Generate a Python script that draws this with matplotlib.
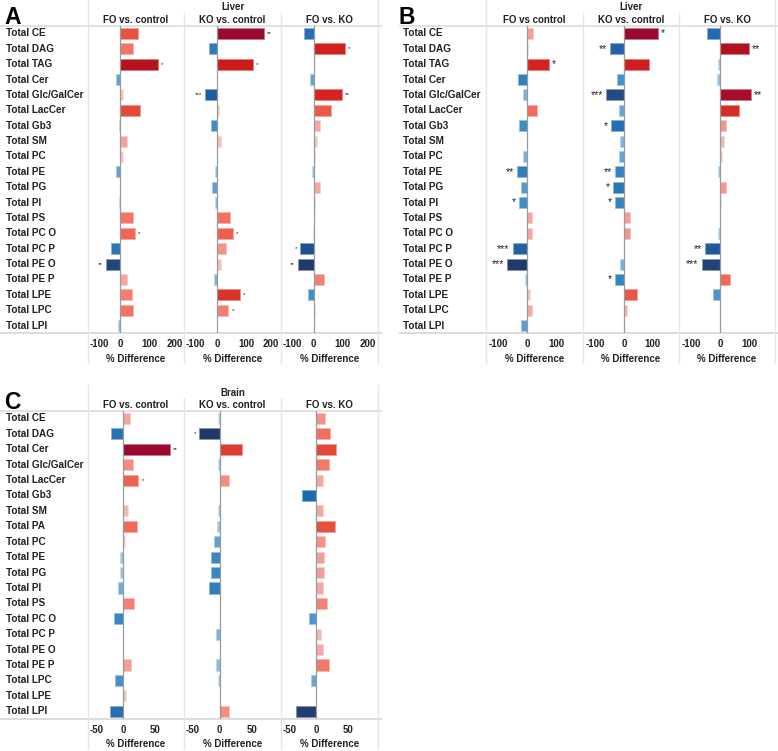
import matplotlib
matplotlib.use("Agg")
import matplotlib.pyplot as plt
import matplotlib.transforms as mtransforms
from matplotlib.colors import LinearSegmentedColormap, to_rgb
from matplotlib.lines import Line2D

plt.rcParams['font.family'] = ['Liberation Sans', 'DejaVu Sans']

# ---------------- data ----------------
rows_liver = ["Total CE", "Total DAG", "Total TAG", "Total Cer", "Total Glc/GalCer",
              "Total LacCer", "Total Gb3", "Total SM", "Total PC", "Total PE", "Total PG",
              "Total PI", "Total PS", "Total PC O", "Total PC P", "Total PE O", "Total PE P",
              "Total LPE", "Total LPC", "Total LPI"]
rows_brain = ["Total CE", "Total DAG", "Total Cer", "Total Glc/GalCer", "Total LacCer",
              "Total Gb3", "Total SM", "Total PA", "Total PC", "Total PE", "Total PG",
              "Total PI", "Total PS", "Total PC O", "Total PC P", "Total PE O", "Total PE P",
              "Total LPC", "Total LPE", "Total LPI"]

a_titles = ["FO vs. control", "KO vs. control", "FO vs. KO"]
b_titles = ["FO vs control", "KO vs. control", "FO vs. KO"]
c_titles = ["FO vs. control", "KO vs. control", "FO vs. KO"]

a_fo_ctrl = [62, 43, 130, -15, 9, 67, -6, 24, 9, -15, 0, -6, 43, 50, -31, -51, 22, 39, 44, -8]
a_ko_ctrl = [160, -29, 124, 0, -42, 8, -22, 13, 0, -8, -16, -8, 45, 54, 31, 12, -10, 80, 39, 0]
a_fo_ko = [-35, 109, 0, -14, 96, 58, 23, 10, 6, -7, 22, 3, 0, -2, -46, -55, 37, -21, 3, 0]

a_fo_ctrl_sig = ["", "", "*", "", "", "", "", "", "", "", "", "", "", "*", "", "**", "", "", "", ""]
a_ko_ctrl_sig = ["**", "", "*", "", "***", "", "", "", "", "", "", "", "", "*", "", "", "", "*", "*", ""]
a_fo_ko_sig = ["", "*", "", "", "**", "", "", "", "", "", "", "", "", "", "*", "**", "", "", "", ""]

b_fo_ctrl = [19, 2, 75, -33, -13, 35, -27, 0, -13, -35, -22, -27, 17, 17, -50, -68, -8, 8, 16, -20]
b_ko_ctrl = [118, -48, 85, -25, -61, -18, -43, -12, -18, -31, -38, -31, 20, 22, 2, -13, -31, 44, 12, 0]
b_fo_ko = [-46, 99, -7, -10, 108, 64, 22, 12, 7, -8, 22, 4, 0, -7, -53, -64, 36, -24, 0, 0]

b_fo_ctrl_sig = ["", "", "*", "", "", "", "", "", "", "**", "", "*", "", "", "***", "***", "", "", "", ""]
b_ko_ctrl_sig = ["*", "**", "", "", "***", "", "*", "", "", "**", "*", "*", "", "", "", "", "*", "", "", ""]
b_fo_ko_sig = ["", "**", "", "", "**", "", "", "", "", "", "", "", "", "", "**", "***", "", "", "", ""]

c_fo_ctrl = [11, -19, 73, 15, 24, 0, 7, 22, 3, -4, -4, -7, 17, -14, 0, 0, 12, -12, 4, -20]
c_ko_ctrl = [-2, -32, 34, -3, 15, 0, -3, -4, -9, -14, -14, -16, 0, 0, -6, 0, -5, -3, 0, 15]
c_fo_ko = [14, 21, 31, 19, 10, -22, 10, 29, 14, 12, 12, 10, 17, -11, 7, 10, 19, -8, 0, -31]

c_fo_ctrl_sig = ["", "", "**", "", "*", "", "", "", "", "", "", "", "", "", "", "", "", "", "", ""]
c_ko_ctrl_sig = ["", "*", "", "", "", "", "", "", "", "", "", "", "", "", "", "", "", "", "", ""]
c_fo_ko_sig = [""] * 20

a_ticks = [-100, 0, 100, 200]
b_ticks = [-100, 0, 100]
c_ticks = [-50, 0, 50]

# ---------------- style ----------------
W, H = 778, 751
fig = plt.figure(figsize=(W / 100, H / 100), dpi=100)
TXT = '#222222'
SEP = '#e6e6e6'
HL = '#dcdcdc'

red_stops = [(0.0, '#f5d3d0'), (0.08, '#f3c0bb'), (0.15, '#f4a39c'), (0.22, '#f4857a'),
             (0.3, '#f06a5c'), (0.4, '#e4503f'), (0.5, '#d83428'), (0.6, '#d42321'),
             (0.77, '#cf1c1d'), (0.82, '#b5121e'), (0.92, '#a50d28'), (1.0, '#990a2e')]
blue_stops = [(0.0, '#c5dcee'), (0.1, '#a3cbe6'), (0.2, '#72b0da'), (0.3, '#5a9fd0'),
              (0.4, '#3d8cc5'), (0.55, '#2b78b8'), (0.7, '#2066ac'), (0.8, '#1f579a'),
              (0.9, '#234a80'), (1.0, '#21396a')]
reds = LinearSegmentedColormap.from_list('reds_', red_stops)
blues = LinearSegmentedColormap.from_list('blues_', blue_stops)


def fx(x):
    return x / W


def fy(y):
    return 1 - y / H


def fline(x0, y0, x1, y1, color, lw):
    fig.add_artist(Line2D([fx(x0), fx(x1)], [fy(y0), fy(y1)], transform=fig.transFigure,
                          color=color, lw=lw, zorder=0))


def lighten(c, f=0.45):
    r, g, b = to_rgb(c)
    return (r + (1 - r) * f, g + (1 - g) * f, b + (1 - b) * f)


def draw_panel(letter, letter_x, label_x, line_x0, line_x1, sub_x, y_top, y_bot, y0_region,
               header, titles, rows, series, sigs, xlim, ticks, edge_shift, star_size):
    vmax = max(max(s) for s in series)
    vmin = min(min(s) for s in series)
    n = len(rows)
    # panel letter / headers
    fig.text(fx(letter_x), fy(y0_region + 17.5), letter, fontsize=16.5, fontweight='bold',
             color='black', ha='left', va='center')
    fig.text(fx((sub_x[1] + sub_x[2]) / 2), fy(y0_region + 7.5), header, fontsize=7,
             fontweight='bold', color=TXT, ha='center', va='center')
    # grid lines
    fline(line_x0, y_top, line_x1, y_top, HL, 1.2)
    fline(line_x0, y_bot, line_x1, y_bot, HL, 1.4)
    for k, xs in enumerate(sub_x):
        top = y0_region if k in (0, len(sub_x) - 1) else y0_region + 13
        fline(xs, top, xs, y_bot + 30, SEP, 1.0)

    for k in range(3):
        x0, x1 = sub_x[k], sub_x[k + 1]
        ax = fig.add_axes([fx(x0), fy(y_bot), (x1 - x0) / W, (y_bot - y_top) / H])
        ax.patch.set_visible(False)
        vals = series[k]
        cols = [reds(v / vmax) if v >= 0 else blues(v / vmin) for v in vals]
        edges = [lighten(c) for c in cols]
        ypos = list(range(n))
        ax.barh(ypos, vals, height=0.72, color=cols, edgecolor=edges, linewidth=0.6, zorder=2)
        ax.axvline(0, color='#9a9a9a', lw=0.9, zorder=3)
        ax.set_xlim(*xlim)
        ax.set_ylim(n - 0.5, -0.5)
        ax.set_yticks([])
        for sp in ax.spines.values():
            sp.set_visible(False)
        ax.set_xticks(ticks)
        ax.set_xticklabels([str(t) for t in ticks])
        ax.tick_params(axis='x', length=0, pad=4.2, labelsize=7, labelcolor=TXT)
        lbls = ax.get_xticklabels()
        for j, lb in enumerate(lbls):
            lb.set_fontweight('bold')
            if j in edge_shift:
                ha, dx = edge_shift[j]
                lb.set_horizontalalignment(ha)
                lb.set_transform(lb.get_transform() +
                                 mtransforms.ScaledTranslation(dx / 100, 0, fig.dpi_scale_trans))
        # titles
        fig.text(fx((x0 + x1) / 2), fy(y0_region + 20), titles[k], fontsize=7,
                 fontweight='bold', color=TXT, ha='center', va='center')
        fig.text(fx((x0 + x1) / 2), fy(y_bot + 25.4), "% Difference", fontsize=7,
                 fontweight='bold', color=TXT, ha='center', va='center')
        # significance
        for i, (v, s) in enumerate(zip(vals, sigs[k])):
            if s:
                off = 3 if v >= 0 else -3
                ax.annotate(s, xy=(v, i), xytext=(off, 0), textcoords='offset pixels',
                            ha='left' if v >= 0 else 'right', va='center',
                            fontsize=star_size, color=TXT, annotation_clip=False)
        if k == 0:
            tr = mtransforms.blended_transform_factory(fig.transFigure, ax.transData)
            for i, r in enumerate(rows):
                ax.text(fx(label_x), i, r, transform=tr, ha='left', va='center',
                        fontsize=7.2, fontweight='bold', color=TXT)


draw_panel("A", 4, 5.5, 0, 381, [87.7, 184.3, 281, 377.5], 25.7, 333.3, 0,
           "Liver", a_titles, rows_liver, [a_fo_ctrl, a_ko_ctrl, a_fo_ko],
           [a_fo_ctrl_sig, a_ko_ctrl_sig, a_fo_ko_sig], (-113, 220), a_ticks,
           {0: ('left', -2), 3: ('right', 4)}, 4.5)

draw_panel("B", 399, 403, 400, 778, [485.7, 582.7, 679, 775], 25.7, 333.3, 0,
           "Liver", b_titles, rows_liver, [b_fo_ctrl, b_ko_ctrl, b_fo_ko],
           [b_fo_ctrl_sig, b_ko_ctrl_sig, b_fo_ko_sig], (-142, 190), b_ticks,
           {}, 7.5)

draw_panel("C", 4, 5.5, 0, 381, [87.7, 184.3, 281, 377.5], 410.7, 719, 385,
           "Brain", c_titles, rows_brain, [c_fo_ctrl, c_ko_ctrl, c_fo_ko],
           [c_fo_ctrl_sig, c_ko_ctrl_sig, c_fo_ko_sig], (-54.6, 94.9), c_ticks,
           {0: ('left', -1.4)}, 4.5)

fig.savefig("out.png", dpi=100)
